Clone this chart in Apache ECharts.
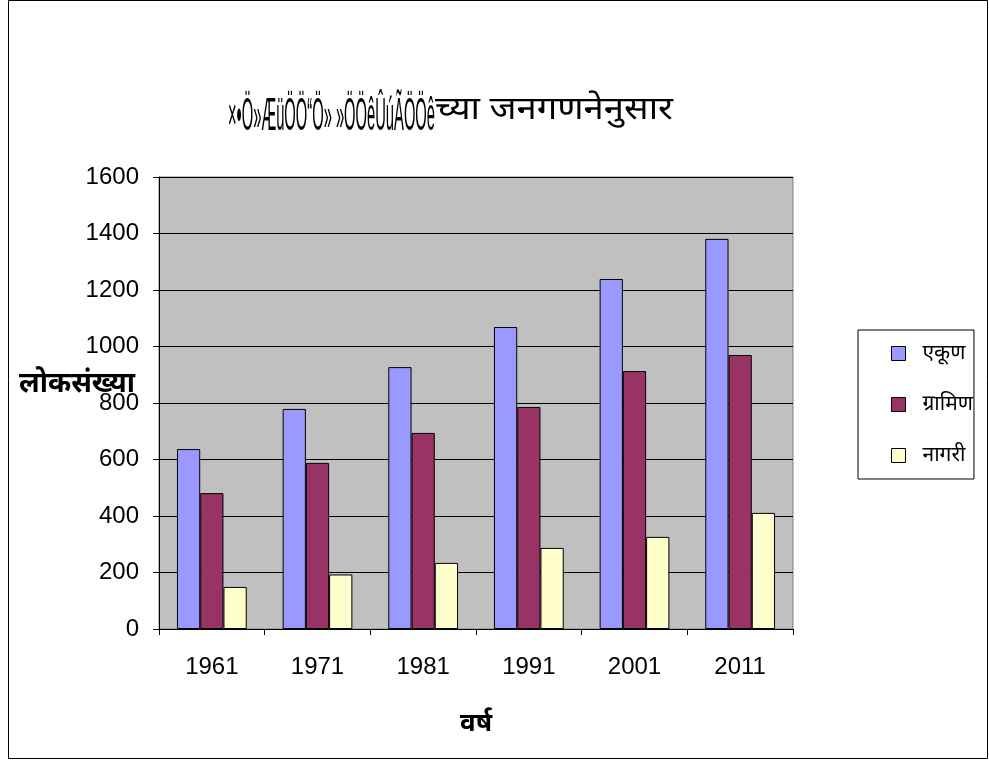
<!DOCTYPE html>
<html>
<head>
<meta charset="utf-8">
<script src="https://cdn.jsdelivr.net/npm/echarts@6/dist/echarts.min.js"></script>
<style>
html,body{margin:0;padding:0;background:#fff;}
#chart{width:989px;height:761px;}
</style>
</head>
<body>
<div id="chart"></div>
<script>
const years = ['1961', '1971', '1981', '1991', '2001', '2011'];
const seriesNames = ['एकूण', 'ग्रामिण', 'नागरी'];
const totalValues = [637, 779, 927, 1069, 1239, 1381];
const ruralValues = [481, 588, 694, 786, 913, 970];
const urbanValues = [149, 193, 234, 287, 326, 411];
const yTicks = { min: 0, max: 1600, interval: 200 };
const titleGarbled = '×•Ö»ÆüÖÖ“Ö» »ÖÖêÛúÃÖÖê';
const titleText = 'च्या जनगणनेनुसार';
const yName = 'लोकसंख्या';
const xName = 'वर्ष';

const colors = ['#9999FF', '#993366', '#FFFFCC'];
const chart = echarts.init(document.getElementById('chart'), null, { renderer: 'canvas' });
const seriesData = [totalValues, ruralValues, urbanValues];

// measure title pieces to fit the reference widths
const ctx = document.createElement('canvas').getContext('2d');
const fontA = '46px "Liberation Sans", Arial, sans-serif';
const fontB = '32px "Noto Sans", sans-serif';
ctx.font = fontA;
const wA = ctx.measureText(titleGarbled).width;
ctx.font = fontB;
const wB = ctx.measureText(titleText).width;
const scaleA = 207 / wA;
const scaleB = 238 / wB;

chart.setOption({
  animation: false,
  backgroundColor: '#ffffff',
  graphic: [
    {
      type: 'rect',
      shape: { x: 8.5, y: 0.5, width: 979, height: 758 },
      style: { fill: 'none', stroke: '#000', lineWidth: 1 },
      z: 100
    },
    {
      type: 'text',
      x: 228, y: 94,
      scaleX: scaleA,
      style: { text: titleGarbled, font: fontA, fill: '#000', textBaseline: 'alphabetic', x: 0, y: 0 },
      z: 50
    },
    {
      type: 'text',
      x: 435, y: 94,
      scaleX: scaleB,
      style: { text: titleText, font: fontB, fill: '#000', textBaseline: 'alphabetic', x: 0, y: 0 },
      z: 50
    },
    {
      type: 'text',
      left: 19,
      top: 370,
      style: { text: yName, font: 'bold 28px "Noto Sans", sans-serif', fill: '#000' },
      z: 50
    }
  ],
  legend: {
    orient: 'vertical',
    left: 858,
    top: 330,
    padding: [13, 1, 13, 33],
    itemGap: 30,
    itemWidth: 14,
    itemHeight: 14,
    borderColor: '#000',
    borderWidth: 1,
    icon: 'rect',
    itemStyle: { borderColor: '#000', borderWidth: 1 },
    textStyle: { fontSize: 21, lineHeight: 20, color: '#000', fontFamily: 'Noto Sans, sans-serif', padding: [0, 0, 0, 12] },
    data: seriesNames
  },
  grid: {
    left: 159,
    right: 196,
    top: 177,
    bottom: 132,
    show: true,
    backgroundColor: '#C0C0C0',
    borderColor: '#808080',
    borderWidth: 1
  },
  xAxis: {
    type: 'category',
    data: years,
    name: xName,
    nameLocation: 'middle',
    nameGap: 82,
    nameTextStyle: { fontSize: 26, fontWeight: 'bold', color: '#000', fontFamily: 'Noto Sans, sans-serif' },
    axisLine: { lineStyle: { color: '#000', width: 1 } },
    axisTick: { show: true, alignWithLabel: false, length: 6, lineStyle: { color: '#000' } },
    axisLabel: { fontSize: 24, color: '#000', fontFamily: 'Liberation Sans, Arial, sans-serif', margin: 26 },
    splitLine: { show: false }
  },
  yAxis: {
    type: 'value',
    min: yTicks.min,
    max: yTicks.max,
    interval: yTicks.interval,
    axisLine: { show: true, lineStyle: { color: '#000', width: 1 } },
    axisTick: { show: true, length: 6, lineStyle: { color: '#000' } },
    axisLabel: { fontSize: 24, color: '#000', fontFamily: 'Liberation Sans, Arial, sans-serif', margin: 20, formatter: v => String(v) },
    splitLine: { show: true, lineStyle: { color: '#000', width: 1 } }
  },
  series: seriesNames.map((n, i) => ({
    name: n,
    type: 'bar',
    data: seriesData[i],
    barGap: '0%',
    barCategoryGap: '34%',
    itemStyle: { color: colors[i], borderColor: '#000', borderWidth: 1 }
  }))
});
</script>
</body>
</html>
